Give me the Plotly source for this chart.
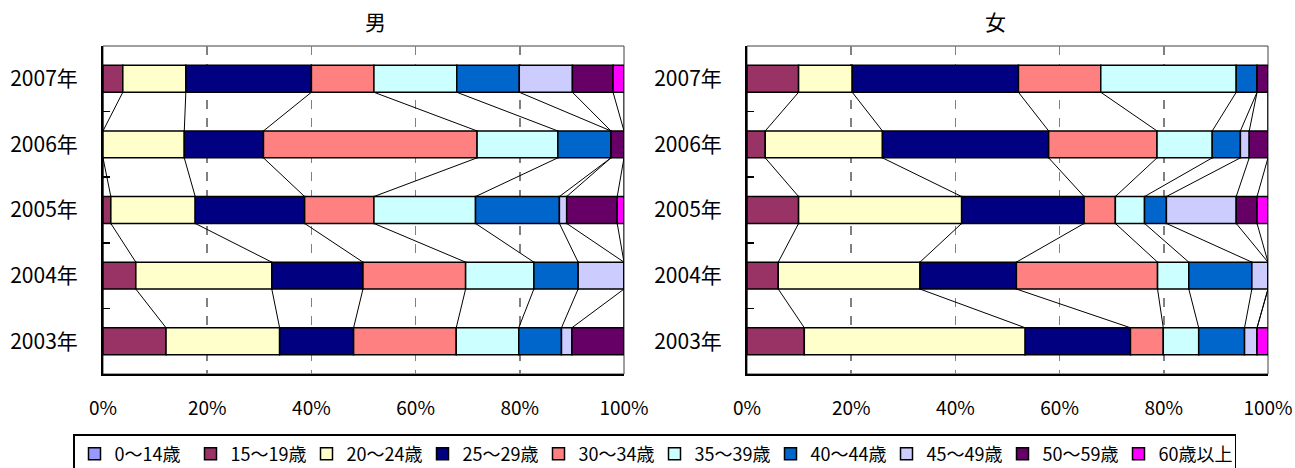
import plotly.graph_objects as go

years = ["2003年", "2004年", "2005年", "2006年", "2007年"]
series_names = ["0～14歳", "15～19歳", "20～24歳", "25～29歳", "30～34歳",
                "35～39歳", "40～44歳", "45～49歳", "50～59歳", "60歳以上"]
colors = ["#9999FF", "#993366", "#FFFFCC", "#000080", "#FF8080",
          "#CCFFFF", "#0066CC", "#CCCCFF", "#660066", "#FF00FF"]

# values per series, order of years: 2003, 2004, 2005, 2006, 2007 (percent)
male = {
    "0～14歳":  [0, 0, 0, 0, 0],
    "15～19歳": [12.1, 6.3, 1.5, 0, 3.8],
    "20～24歳": [21.8, 26.1, 16.2, 15.6, 12.1],
    "25～29歳": [14.2, 17.5, 21.0, 15.2, 24.1],
    "30～34歳": [19.7, 19.7, 13.3, 41.0, 12.0],
    "35～39歳": [12.0, 13.1, 19.5, 15.5, 15.9],
    "40～44歳": [8.2, 8.5, 16.1, 10.2, 12.0],
    "45～49歳": [2.0, 8.8, 1.4, 0, 10.2],
    "50～59歳": [10.0, 0, 9.7, 2.5, 7.8],
    "60歳以上": [0, 0, 1.3, 0, 2.1],
}
female = {
    "0～14歳":  [0, 0, 0, 0, 0],
    "15～19歳": [11.0, 6.0, 9.9, 3.5, 9.9],
    "20～24歳": [42.4, 27.2, 31.3, 22.5, 10.3],
    "25～29歳": [20.2, 18.5, 23.5, 31.9, 31.9],
    "30～34歳": [6.3, 27.1, 6.0, 20.8, 15.8],
    "35～39歳": [6.8, 6.0, 5.6, 10.6, 26.0],
    "40～44歳": [8.8, 12.1, 4.2, 5.4, 4.0],
    "45～49歳": [2.4, 3.1, 13.4, 1.7, 0],
    "50～59歳": [0, 0, 4.0, 3.6, 2.1],
    "60歳以上": [2.1, 0, 2.1, 0, 0],
}
x_ticks = [0, 20, 40, 60, 80, 100]
x_ticktext = ["0%", "20%", "40%", "60%", "80%", "100%"]

FONT = "Noto Sans CJK JP"
W, H = 1295, 468
pos = list(range(len(years)))
BW = 0.41

def px_x(p):
    return p / W

def px_y(p):
    return 1 - p / H

fig = go.Figure()

def add_panel(data, xa, ya, show_legend):
    totals = [sum(data[s][i] for s in series_names) for i in pos]
    cum = [0.0] * len(pos)
    for name, col in zip(series_names, colors):
        vals = [data[name][i] / totals[i] * 100 for i in pos]
        fig.add_trace(go.Bar(
            x=vals, y=pos, base=cum[:], orientation="h", width=BW,
            name=name, marker=dict(color=col, line=dict(color="black", width=1.5)),
            xaxis=xa, yaxis=ya, showlegend=show_legend, legendgroup=name,
            hoverinfo="skip"))
        cum = [c + v for c, v in zip(cum, vals)]
        lx, ly = [], []
        for i in range(len(pos) - 1):
            lx += [cum[i], cum[i + 1], None]
            ly += [pos[i] + BW / 2, pos[i + 1] - BW / 2, None]
        fig.add_trace(go.Scatter(x=lx, y=ly, mode="lines",
                                 line=dict(color="black", width=1),
                                 xaxis=xa, yaxis=ya, showlegend=False,
                                 hoverinfo="skip"))

add_panel(male, "x", "y", True)
add_panel(female, "x2", "y2", False)

y0 = px_y(374)
y1 = px_y(46)
doms = [(px_x(103), px_x(624)), (px_x(747), px_x(1268))]

for k, (xk, yk) in enumerate([("xaxis", "yaxis"), ("xaxis2", "yaxis2")]):
    xa = dict(domain=doms[k], range=[0, 100], tickvals=x_ticks, ticktext=x_ticktext,
              showgrid=True, griddash="dash", gridcolor="#808080", gridwidth=1.5,
              showline=True, linecolor="black", linewidth=2, ticks="",
              zeroline=False, ticklabelstandoff=16, automargin=False,
              ticklabeloverflow="allow",
              tickfont=dict(family=FONT, size=19, color="black"),
              anchor="y" if k == 0 else "y2", fixedrange=True)
    ya = dict(domain=[y0, y1], range=[-0.5, 4.5], tickvals=pos, ticktext=years,
              showgrid=False, zeroline=False, showline=True, linecolor="black",
              linewidth=2, ticks="", ticklabelstandoff=19, automargin=False,
              minor=dict(tickvals=[0.5, 1.5, 2.5, 3.5], ticks="inside", ticklen=7,
                         tickcolor="black", tickwidth=1.5),
              tickfont=dict(family=FONT, size=21, color="black"),
              anchor="x" if k == 0 else "x2", fixedrange=True)
    fig.layout[xk] = xa
    fig.layout[yk] = ya
    fig.add_shape(type="rect", xref=("x" if k == 0 else "x2") + " domain",
                  yref=("y" if k == 0 else "y2") + " domain",
                  x0=0, x1=1, y0=0, y1=1, line=dict(color="#404040", width=1),
                  layer="below")

fig.add_annotation(text="男", x=(doms[0][0] + doms[0][1]) / 2, y=px_y(21),
                   xref="paper", yref="paper", showarrow=False, yanchor="middle",
                   font=dict(family=FONT, size=21, color="black"))
fig.add_annotation(text="女", x=(doms[1][0] + doms[1][1]) / 2, y=px_y(21),
                   xref="paper", yref="paper", showarrow=False, yanchor="middle",
                   font=dict(family=FONT, size=21, color="black"))

fig.update_layout(
    width=W, height=H, barmode="overlay", plot_bgcolor="white", paper_bgcolor="white",
    margin=dict(l=0, r=0, t=0, b=0, autoexpand=False),
    legend=dict(orientation="h", x=px_x(73), xanchor="left",
                y=px_y(434), yanchor="top", bordercolor="black", borderwidth=1.5,
                font=dict(family=FONT, size=18, color="black"),
                entrywidth=71, entrywidthmode="pixels", itemwidth=30,
                traceorder="normal", tracegroupgap=0),
)

fig.write_html("out.html",
               config=dict(displayModeBar=False, staticPlot=True),
               post_script="document.body.style.margin='0';"
                           "document.body.style.overflow='hidden';")
